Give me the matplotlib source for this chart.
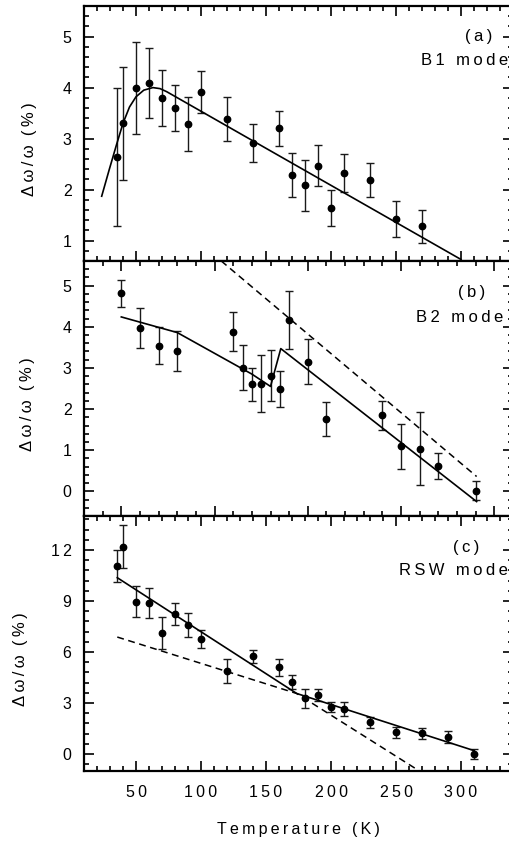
import matplotlib
matplotlib.use('Agg')
import matplotlib.pyplot as plt
from matplotlib.ticker import MultipleLocator, FuncFormatter

plt.rcParams['font.family'] = ['Liberation Sans', 'DejaVu Sans']

# (a) B1 mode
a_T = [35, 40, 50, 60, 70, 80, 90, 100, 120, 140, 160, 170, 180, 190, 200, 210, 230, 250, 270]
a_v = [2.64, 3.30, 4.00, 4.09, 3.79, 3.60, 3.28, 3.91, 3.38, 2.91, 3.20, 2.29, 2.09, 2.47, 1.64, 2.32, 2.19, 1.43, 1.28]
a_err = [1.35, 1.11, 0.90, 0.68, 0.55, 0.46, 0.53, 0.41, 0.43, 0.37, 0.35, 0.43, 0.50, 0.40, 0.35, 0.37, 0.33, 0.35, 0.32]
a_fit_T = [23.6, 29.5, 35, 40, 45, 50, 56, 63, 68.5, 73.6, 300]
a_fit_v = [1.87, 2.40, 2.88, 3.30, 3.62, 3.82, 3.95, 4.00, 3.98, 3.92, 0.63]

# (b) B2 mode
b_T = [50, 60, 70, 80, 110, 115, 120, 125, 130, 135, 140, 150, 160, 190, 200, 210, 220, 240]
b_v = [4.81, 3.97, 3.54, 3.41, 3.88, 3.01, 2.60, 2.62, 2.81, 2.49, 4.17, 3.15, 1.76, 1.85, 1.09, 1.04, 0.62, 0.01]
b_err = [0.33, 0.48, 0.45, 0.48, 0.47, 0.55, 0.40, 0.69, 0.62, 0.43, 0.70, 0.55, 0.42, 0.35, 0.54, 0.89, 0.31, 0.23]
b_fit_T = [50, 80, 120, 130, 135.5, 240.5]
b_fit_v = [4.24, 3.86, 2.85, 2.55, 3.47, -0.25]
b_dash_T = [103.6, 240.5]
b_dash_v = [5.6, 0.36]

# (c) RSW mode
c_T = [35, 40, 50, 60, 70, 80, 90, 100, 120, 140, 160, 170, 180, 190, 200, 210, 230, 250, 270, 290, 310]
c_v = [11.06, 12.19, 8.96, 8.86, 7.12, 8.21, 7.59, 6.76, 4.90, 5.74, 5.09, 4.25, 3.27, 3.47, 2.78, 2.65, 1.86, 1.29, 1.21, 1.00, 0.00]
c_err = [0.96, 1.27, 0.93, 0.88, 0.92, 0.65, 0.68, 0.53, 0.70, 0.40, 0.48, 0.41, 0.54, 0.38, 0.29, 0.42, 0.33, 0.32, 0.30, 0.37, 0.30]
c_fit_T = [35.6, 173.6, 310]
c_fit_v = [10.37, 3.56, 0.20]
c_dash_T = [35.6, 173.6, 268]
c_dash_v = [6.88, 3.56, -1.0]


def spaced(s):
    # letter spacing like the original typesetting, words kept apart
    return '\u2009 \u2009'.join('\u2009'.join(w) for w in s.split())


fig = plt.figure(figsize=(5.09, 8.44), dpi=100)

left, width, height = 84/509., 429/509., 255/844.
axa = fig.add_axes([left, (844-261)/844., width, height])
axb = fig.add_axes([left, (844-516)/844., width, height])
axc = fig.add_axes([left, (844-771)/844., width, height])

dash = (0, (4.5, 3))
ebkw = dict(fmt='o', color='black', ms=4.6, ecolor='0.1', elinewidth=1.0, capsize=3.0, capthick=1.0)

axa.errorbar(a_T, a_v, yerr=a_err, **ebkw)
axa.plot(a_fit_T, a_fit_v, color='black', lw=1.2)

axb.errorbar(b_T, b_v, yerr=b_err, **ebkw)
axb.plot(b_fit_T, b_fit_v, color='black', lw=1.2)
axb.plot(b_dash_T, b_dash_v, color='black', lw=1.1, ls=dash)

axc.errorbar(c_T, c_v, yerr=c_err, **ebkw)
axc.plot(c_fit_T, c_fit_v, color='black', lw=1.2)
axc.plot(c_dash_T, c_dash_v, color='black', lw=1.1, ls=dash)

axa.set_xlim(10, 340)
axa.set_ylim(0.6, 5.6)
axb.set_xlim(30, 260)
axb.set_ylim(-0.6, 5.6)
axc.set_xlim(10, 340)
axc.set_ylim(-1, 14)

fmt = FuncFormatter(lambda v, p: spaced('%g' % v))

for ax, ymaj, ymin in [(axa, 1, 0.2), (axb, 1, 0.2), (axc, 3, 0.6)]:
    ax.xaxis.set_major_locator(MultipleLocator(50))
    ax.xaxis.set_minor_locator(MultipleLocator(10))
    ax.yaxis.set_major_locator(MultipleLocator(ymaj))
    ax.yaxis.set_minor_locator(MultipleLocator(ymin))
    ax.xaxis.set_major_formatter(fmt)
    ax.yaxis.set_major_formatter(fmt)
    ax.tick_params(which='both', direction='in', top=True, right=True, width=1.2, labelsize=11.5)
    ax.tick_params(which='major', length=7)
    ax.tick_params(which='minor', length=3.5)
    ax.tick_params(axis='y', pad=9)
    ax.tick_params(axis='x', pad=10)
    for sp in ax.spines.values():
        sp.set_linewidth(1.6)

axa.tick_params(labelbottom=False)
axb.tick_params(labelbottom=False)

ylab = '\u2009'.join('Δω/ω') + '  ' + '\u2009'.join('(%)')
for ax, xl in [(axa, -0.128), (axb, -0.131), (axc, -0.149)]:
    ax.text(xl, 0.44, ylab, transform=ax.transAxes, rotation=90,
            ha='center', va='center', fontsize=12)

axc.set_xlabel(spaced('Temperature (K)'), fontsize=11.5, labelpad=16)

# panel tags
tags = [(axa, '(a)', 0.951, 0.882, 'B1 mode', 0.988, 0.788),
        (axb, '(b)', 0.935, 0.876, 'B2 mode', 0.977, 0.778),
        (axc, '(c)', 0.921, 0.876, 'RSW mode', 0.988, 0.786)]
for ax, t1, x1, y1, t2, x2, y2 in tags:
    ax.text(x1, y1, spaced(t1), transform=ax.transAxes, ha='right', va='center', fontsize=12)
    ax.text(x2, y2, spaced(t2), transform=ax.transAxes, ha='right', va='center', fontsize=12)

plt.savefig('out.png', dpi=100)
